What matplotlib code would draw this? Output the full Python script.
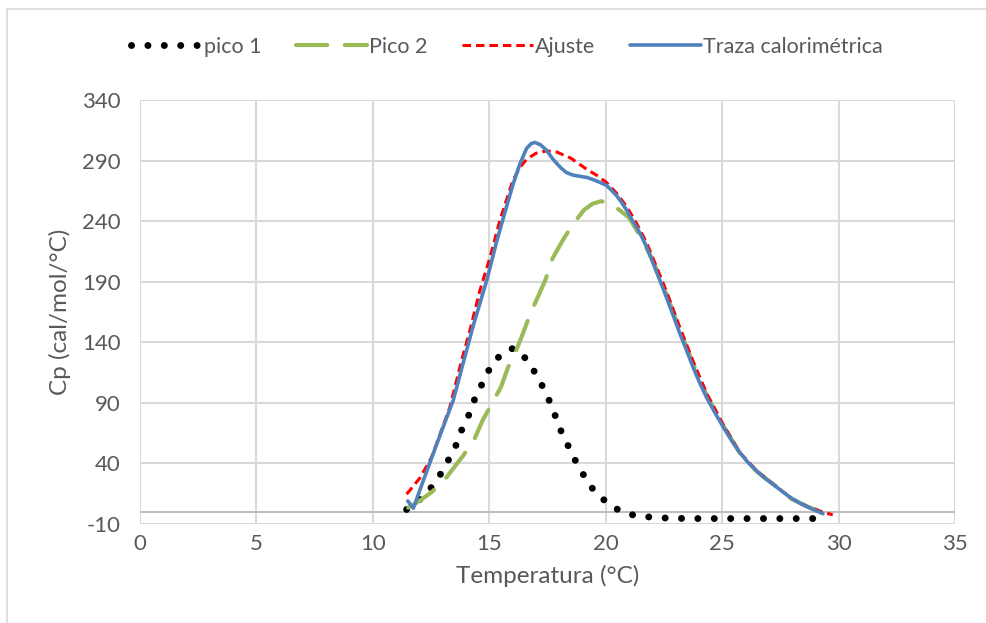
import matplotlib
matplotlib.use("Agg")
import matplotlib.pyplot as plt
from matplotlib.lines import Line2D

plt.rcParams['font.family'] = ['Lato', 'DejaVu Sans']
plt.rcParams['axes.unicode_minus'] = False

# ---- data ----
pico1_x = [11.45, 12.0, 12.5, 12.9, 13.25, 13.55, 13.8, 14.1, 14.35, 14.65, 14.95, 15.35,
           15.9, 16.1, 16.5, 16.9, 17.25, 17.55, 17.8, 18.05, 18.35, 18.65, 19.0, 19.35,
           19.85, 20.4, 21.0, 21.7, 22.5, 23.5, 24.5, 25.5, 26.5, 27.5, 28.5, 29.4]
pico1_y = [2, 10, 20, 31, 43, 54, 67, 79, 92, 104, 116, 127,
           134.5, 135, 128, 117, 105, 93, 81, 68, 56, 44, 32, 21,
           11, 3, -2, -4, -5, -5.5, -5.5, -5.5, -5.5, -5.5, -5.5, -5.5]

pico2_x = [11.52, 12.0, 12.5, 12.8, 13.1, 13.38, 13.9, 14.36, 14.7, 15.1, 15.5, 15.8,
           16.15, 16.46, 16.75, 17.1, 17.42, 17.71, 18.15, 18.57, 19.08, 19.45, 19.82,
           20.32, 20.6, 21.0, 21.5, 22.04, 22.61, 23.19, 23.76, 24.33, 25.05, 25.76,
           26.48, 27.19, 28.0, 28.7, 29.3, 29.76]
pico2_y = [3.5, 9, 16, 21, 27, 34, 47, 60, 75, 89, 103, 119,
           133, 148, 163, 178, 192, 209, 224, 237, 249.5, 254.5, 256.5,
           253, 249, 243, 227, 207, 180, 150, 122, 96.5, 71, 48.5,
           33.5, 22.8, 10.5, 4, 0, -1.5]

ajuste_x = [11.45, 12.02, 12.52, 13.3, 13.81, 14.17, 14.6, 15.03, 15.46, 16.0, 16.3,
            16.6, 17.0, 17.46, 17.9, 18.5, 19.17, 19.6, 20.03, 20.47, 20.9, 21.33, 21.76,
            22.04, 22.61, 23.19, 23.76, 24.33, 25.05, 25.76, 26.48, 27.19, 28.0, 28.7,
            29.3, 29.75]
ajuste_y = [14.6, 28, 45, 86, 125, 150, 183, 210, 241, 273, 284,
            291, 296, 298, 297, 292, 283, 278, 272, 263, 252, 238, 222,
            209, 182, 152, 124, 98, 72, 49, 34, 23, 11, 4, 0, -2.5]

traza_x = [11.5, 11.74, 12.0, 12.38, 12.9, 13.45, 13.81, 14.3, 14.89, 15.3, 15.74, 16.03,
           16.32, 16.6, 16.8, 16.96, 17.2, 17.46, 17.7, 17.9, 18.1, 18.32, 18.6, 18.9,
           19.2, 19.46, 19.75, 20.03, 20.25, 20.47, 20.7, 20.9, 21.1, 21.33, 21.55, 21.76,
           22.04, 22.33, 22.61, 22.9, 23.19, 23.48, 23.76, 24.05, 24.33, 24.7, 25.05,
           25.4, 25.76, 26.1, 26.48, 26.8, 27.19, 27.6, 28.0, 28.4, 28.85, 29.33]
traza_y = [9, 3, 17, 37, 64, 92, 118, 153, 191, 222, 252, 271,
           287.5, 300, 304, 305, 303, 298.5, 292, 287.5, 283.5, 280, 278, 277,
           276, 274.3, 272, 269.6, 265.5, 261, 255, 249, 242, 235, 227, 218.6,
           205, 191, 177, 162, 147, 133, 119, 106, 94.5, 81.5, 70,
           59, 49, 41, 33.8, 28.3, 22.8, 16.5, 11, 6.5, 2.5, -1.5]

labels = ['pico 1', 'Pico 2', 'Ajuste', 'Traza calorimétrica']
x_ticks = [0, 5, 10, 15, 20, 25, 30, 35]
y_ticks = [-10, 40, 90, 140, 190, 240, 290, 340]

# ---- figure ----
W, H = 986, 623
fig = plt.figure(figsize=(W / 100, H / 100), dpi=100)
ax = fig.add_axes([140 / W, (H - 524) / H, (955 - 140) / W, (524 - 100) / H])

grid_c = '#d9d9d9'
text_c = '#595959'

l1, = ax.plot(pico1_x, pico1_y, color='black', lw=5, linestyle=(0, (0.01, 2.35)),
              dash_capstyle='round', zorder=3)
l2, = ax.plot(pico2_x, pico2_y, color='#9bbb59', lw=3.0, linestyle=(0, (7.5, 4.2)),
              dash_capstyle='round', zorder=4)
l3, = ax.plot(ajuste_x, ajuste_y, color='#ff0000', lw=2.2, linestyle=(0, (2.8, 1.6)),
              zorder=5)
l4, = ax.plot(traza_x, traza_y, color='#4f81bd', lw=2.6, zorder=6,
              solid_capstyle='round', solid_joinstyle='round')

ax.set_xlim(0, 35)
ax.set_ylim(-10, 340)
ax.set_xticks(x_ticks)
ax.set_yticks(y_ticks)
ax.grid(True, color=grid_c, lw=1.5)
ax.set_axisbelow(True)
for s in ax.spines.values():
    s.set_visible(False)
ax.axhline(0, color='#bfbfbf', lw=1.5, zorder=2)
ax.tick_params(length=0, labelsize=16, colors=text_c)
ax.tick_params(axis='y', pad=14)
ax.tick_params(axis='x', pad=7)
ax.set_xlabel('Temperatura (°C)', fontsize=17.5, color=text_c, labelpad=8)
ax.set_ylabel('Cp (cal/mol/°C)', fontsize=17.5, color=text_c, labelpad=8)

leg = fig.legend([l1, l2, l3, l4], labels, loc='center', ncol=4,
                 bbox_to_anchor=(507 / W, 1 - 47 / H), frameon=False,
                 fontsize=15.5, handlelength=3.3, columnspacing=1.6,
                 handletextpad=0.1, labelcolor=text_c)

# chart border (top and left visible)
fig.add_artist(Line2D([7 / W, 1], [1 - 9 / H, 1 - 9 / H], color=grid_c, lw=1.2,
                      transform=fig.transFigure))
fig.add_artist(Line2D([7 / W, 7 / W], [0, 1 - 9 / H], color=grid_c, lw=1.2,
                      transform=fig.transFigure))

fig.savefig('out.png', dpi=100, facecolor='white')
